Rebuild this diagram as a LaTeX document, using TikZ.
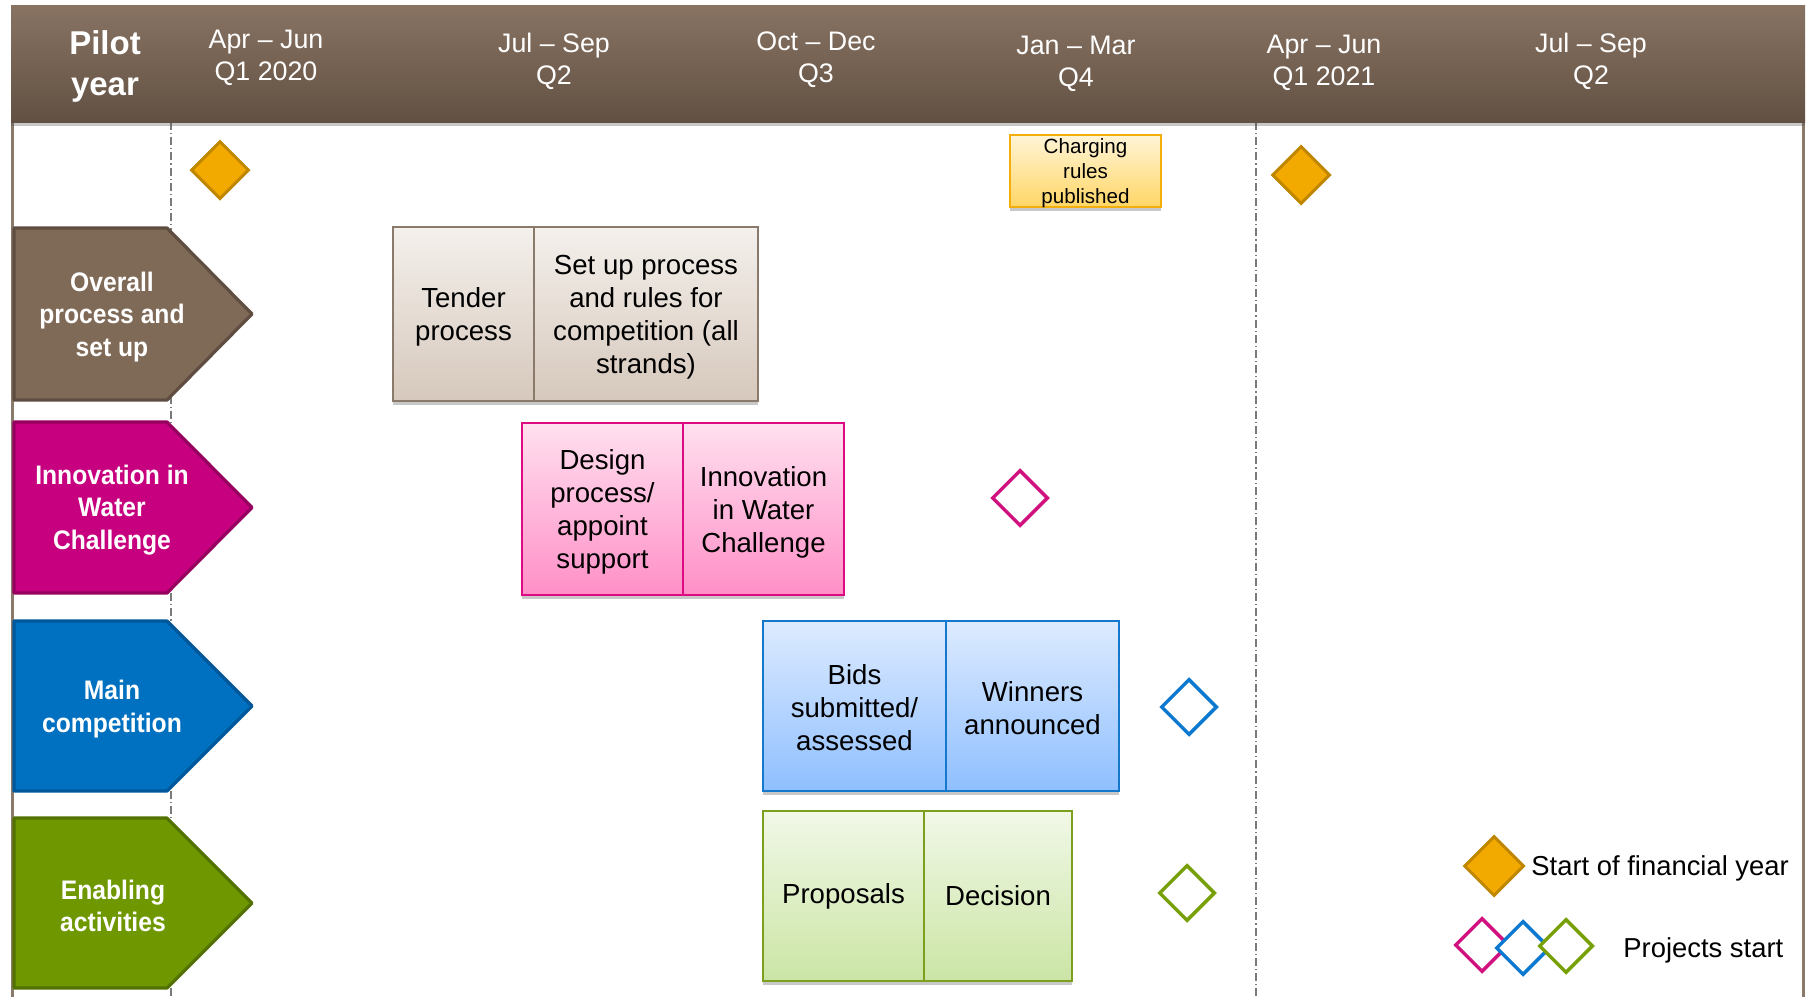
\documentclass[tikz,border=0pt]{standalone}
\usepackage{fontspec}
\setmainfont{Liberation Sans}
\newfontfamily\lblfont[FakeStretch=0.92]{Liberation Sans}
\usetikzlibrary{shapes.geometric,shadows}

\definecolor{hdrtop}{HTML}{887363}
\definecolor{hdrbot}{HTML}{625143}
\definecolor{framec}{HTML}{8A7A6C}
\definecolor{qlinec}{HTML}{7A7A7A}
\definecolor{brownfill}{HTML}{7F6A57}
\definecolor{brownline}{HTML}{5E4D40}
\definecolor{magfill}{HTML}{C6007E}
\definecolor{magline}{HTML}{96005F}
\definecolor{bluefill}{HTML}{0070C0}
\definecolor{blueline}{HTML}{00579A}
\definecolor{grnfill}{HTML}{6E9700}
\definecolor{grnline}{HTML}{527100}
\definecolor{orfill}{HTML}{F2A900}
\definecolor{orline}{HTML}{BF8700}
\definecolor{tentop}{HTML}{F4F0EC}
\definecolor{tenbot}{HTML}{D6C8BC}
\definecolor{tenline}{HTML}{8A7A6C}
\definecolor{pinktop}{HTML}{FFE0EF}
\definecolor{pinkbot}{HTML}{FF8FC7}
\definecolor{pinkline}{HTML}{DE0A82}
\definecolor{lbtop}{HTML}{DDEBFF}
\definecolor{lbbot}{HTML}{8FBFFF}
\definecolor{lbline}{HTML}{1478CC}
\definecolor{lgtop}{HTML}{F1F8E7}
\definecolor{lgbot}{HTML}{CBE5A5}
\definecolor{lgline}{HTML}{7C9F1E}
\definecolor{chtop}{HTML}{FFF4D6}
\definecolor{chbot}{HTML}{FFD666}
\definecolor{chline}{HTML}{F3AE0B}
\definecolor{hdmag}{HTML}{D1117F}
\definecolor{hdblue}{HTML}{0A79CF}
\definecolor{hdgrn}{HTML}{77A006}

\begin{document}
\begin{tikzpicture}[x=0.5pt,y=-0.5pt,
  softshadow/.style={drop shadow={shadow xshift=0pt,shadow yshift=-2pt,opacity=0.3,fill=black!70}},
  frame/.style={draw=framec,line width=1.5pt},
  qline/.style={draw=qlinec,line width=0.75pt,dash pattern=on 4pt off 1.5pt on 0.6pt off 1.5pt},
  header/.style={top color=hdrtop,bottom color=hdrbot,softshadow},
  hdr/.style={text=white,align=center,inner sep=0pt,font=\fontsize{13.4}{16}\selectfont},
  pilot/.style={text=white,align=center,inner sep=0pt,font=\bfseries\fontsize{16.5}{20.5}\selectfont},
  rowshape/.style={line width=1.6pt,line join=round},
  rowlbl/.style={text=white,align=center,inner sep=0pt,font=\lblfont\bfseries\fontsize{13.4}{16.2}\selectfont},
  actbox/.style={rectangle,line width=1pt,inner sep=0pt,softshadow},
  acttxt/.style={align=center,inner sep=0pt,font=\fontsize{13.8}{16.5}\selectfont},
  tenbox/.style={actbox,draw=tenline,top color=tentop,bottom color=tenbot},
  pinkbox/.style={actbox,draw=pinkline,top color=pinktop,bottom color=pinkbot},
  bluebox/.style={actbox,draw=lbline,top color=lbtop,bottom color=lbbot},
  grnbox/.style={actbox,draw=lgline,top color=lgtop,bottom color=lgbot},
  chbox/.style={rectangle,draw=chline,line width=1pt,top color=chtop,bottom color=chbot,
     inner sep=0pt,softshadow},
  chtxt/.style={align=center,inner sep=0pt,font=\fontsize{10.3}{12.5}\selectfont},
  fydia/.style={diamond,draw=orline,fill=orfill,line width=1.5pt,inner sep=0pt,
     minimum width=29pt,minimum height=29pt},
  pjdia/.style={diamond,fill=white,line width=1.75pt,inner sep=0pt,
     minimum width=28pt,minimum height=28pt},
  legtxt/.style={anchor=west,inner sep=0pt,font=\fontsize{13.7}{16}\selectfont}
]
\useasboundingbox (0,0) rectangle (1807,997);
\fill[white] (0,0) rectangle (1807,997);

% frame and quarter lines
\draw[frame] (12,100) -- (12,997);
\draw[frame] (1803,100) -- (1803,997);
\draw[qline] (171,122) -- (171,997);
\draw[qline] (1256,122) -- (1256,997);

% header band
\path[header] (11,5) rectangle (1805,122);
\node[pilot] (pilot) at (105,66) {Pilot\\year};
\node[hdr] (q1a) at (266,58) {Apr – Jun\\Q1 2020};
\node[hdr] (q2a) at (554,61) {Jul – Sep\\Q2};
\node[hdr] (q3a) at (816,60) {Oct – Dec\\Q3};
\node[hdr] (q4a) at (1076,64) {Jan – Mar\\Q4};
\node[hdr] (q1b) at (1324,63) {Apr – Jun\\Q1 2021};
\node[hdr] (q2b) at (1591,61) {Jul – Sep\\Q2};

% start of financial year markers
\node[fydia] (fy1) at (220,170) {};
\node[fydia] (fy2) at (1301,175) {};
\node[chbox,minimum width=75.5pt,minimum height=36pt] (chg) at (1085.5,171) {};
\node[chtxt] (chgt) at (1085.5,173) {Charging\\rules\\published};

% row arrows
\path[rowshape,fill=brownfill,draw=brownline] (14,228) -- (167,228) -- (252,314) -- (167,400) -- (14,400) -- cycle;
\node[rowlbl] (r1) at (112,317) {Overall\\process and\\set up};
\path[rowshape,fill=magfill,draw=magline] (14,422) -- (167,422) -- (252,507.5) -- (167,593) -- (14,593) -- cycle;
\node[rowlbl] (r2) at (112,510) {Innovation in\\Water\\Challenge};
\path[rowshape,fill=bluefill,draw=blueline] (14,621) -- (167,621) -- (252,706) -- (167,791) -- (14,791) -- cycle;
\node[rowlbl] (r3) at (112,709) {Main\\competition};
\path[rowshape,fill=grnfill,draw=grnline] (14,818) -- (167,818) -- (252,903) -- (167,988) -- (14,988) -- cycle;
\node[rowlbl] (r4) at (113,906) {Enabling\\activities};

% row 1 activities
\node[tenbox,minimum width=70.5pt,minimum height=87pt] (tender) at (463.5,314) {};
\node[tenbox,minimum width=112pt,minimum height=87pt] (setup) at (646,314) {};
\node[acttxt] (tendert) at (463.5,317) {Tender\\process};
\node[acttxt] (setupt) at (646,317) {Set up process\\and rules for\\competition (all\\strands)};

% row 2 activities
\node[pinkbox,minimum width=80.5pt,minimum height=86pt] (design) at (602.5,509) {};
\node[pinkbox,minimum width=80.5pt,minimum height=86pt] (iwc) at (763.5,509) {};
\node[acttxt] (designt) at (602.5,512) {Design\\process/\\appoint\\support};
\node[acttxt] (iwct) at (763.5,512) {Innovation\\in Water\\Challenge};
\node[pjdia,draw=hdmag] (pm) at (1020,498) {};

% row 3 activities
\node[bluebox,minimum width=91.5pt,minimum height=85pt] (bids) at (854.5,706) {};
\node[bluebox,minimum width=86.5pt,minimum height=85pt] (win) at (1032.5,706) {};
\node[acttxt] (bidst) at (854.5,708) {Bids\\submitted/\\assessed};
\node[acttxt] (wint) at (1032.5,708) {Winners\\announced};
\node[pjdia,draw=hdblue] (pb) at (1189,707) {};

% row 4 activities
\node[grnbox,minimum width=80.5pt,minimum height=85pt] (prop) at (843.5,896) {};
\node[grnbox,minimum width=74pt,minimum height=85pt] (dec) at (998,896) {};
\node[acttxt] (propt) at (843.5,896) {Proposals};
\node[acttxt] (dect) at (998,896) {Decision};
\node[pjdia,draw=hdgrn] (pg) at (1187,893) {};

% legend
\node[fydia,minimum width=30pt,minimum height=30pt] (legfy) at (1494,866) {};
\node[legtxt] (legfyt) at (1531,868) {Start of financial year};
\node[pjdia,draw=hdmag,minimum width=27pt,minimum height=27pt] (lm) at (1482,945) {};
\node[pjdia,draw=hdblue,minimum width=27pt,minimum height=27pt] (lb) at (1523,948) {};
\node[pjdia,draw=hdgrn,minimum width=27pt,minimum height=27pt] (lg) at (1566,946) {};
\node[legtxt] (legpt) at (1623,950) {Projects start};
\end{tikzpicture}
\end{document}
